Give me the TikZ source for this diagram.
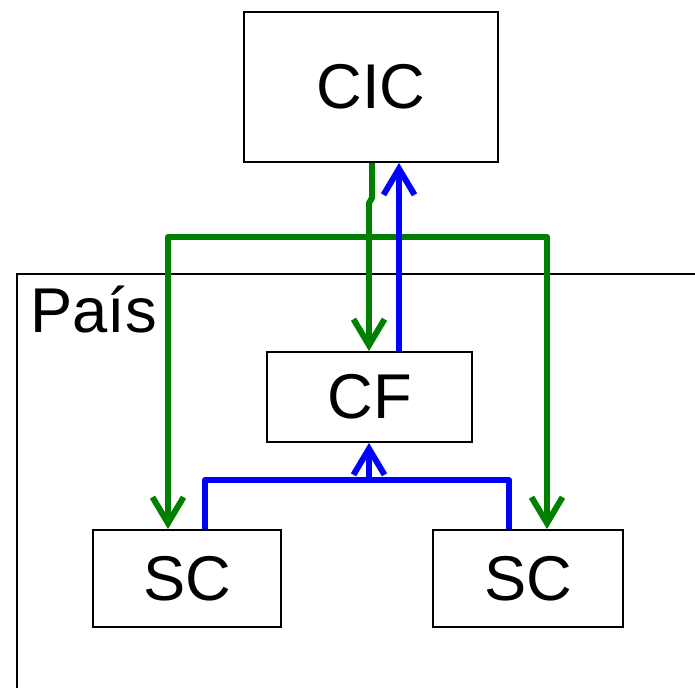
\documentclass[tikz,border=0pt]{standalone}
\usepackage{fontspec}
\setmainfont{Liberation Sans}
\usetikzlibrary{arrows.meta}
\begin{document}
\begin{tikzpicture}[
  box/.style={shape=rectangle, draw=black, line width=1.1pt, inner sep=0pt},
  grn/.style={line width=3.4pt, draw={rgb,255:red,0;green,128;blue,0}, line join=round},
  blu/.style={line width=3.4pt, draw=blue, line join=round},
  >={Straight Barb[length=5.2mm, width=6.2mm]},
  font=\fontsize{36}{43}\selectfont]
\clip (0,0) rectangle (13.9,13.76);
% country frame
\draw[line width=1.1pt] (0.34,-1) -- (0.34,8.28) -- (15,8.28);
\node[anchor=base west, inner sep=0pt] (pais) at (0.6,7.1) {País};
% boxes
\node[box, minimum width=5.08cm, minimum height=3cm] (CIC) at (7.42,12.02) {CIC};
\node[box, minimum width=4.1cm, minimum height=1.8cm] (CF) at (7.39,5.82) {CF};
\node[box, minimum width=3.76cm, minimum height=1.94cm] (SCa) at (3.74,2.19) {SC};
\node[box, minimum width=3.8cm, minimum height=1.94cm] (SCb) at (10.56,2.19) {SC};
% green: CIC down
\coordinate (g1) at (7.44,9.8);
\coordinate (g2) at (7.38,9.7);
\path[grn, ->] (CIC.south -| g1) -- (g1) -- (g2) -- (CF.north -| g2);
\coordinate (ga) at (3.36,9.02);
\coordinate (gb) at (10.94,9.02);
\path[grn, <->] (SCa.north -| ga) -- (ga) -- (gb) -- (SCb.north -| gb);
% blue: up
\coordinate (b0) at (7.98,6.72);
\path[blu, ->] (CF.north -| b0) -- (CIC.south -| b0);
\coordinate (ba) at (4.1,4.16);
\coordinate (bb) at (10.18,4.16);
\coordinate (bm) at (7.38,4.16);
\path[blu] (SCa.north -| ba) -- (ba) -- (bb) -- (SCb.north -| bb);
\path[blu, ->] (bm) -- (CF.south -| bm);
\end{tikzpicture}
\end{document}
